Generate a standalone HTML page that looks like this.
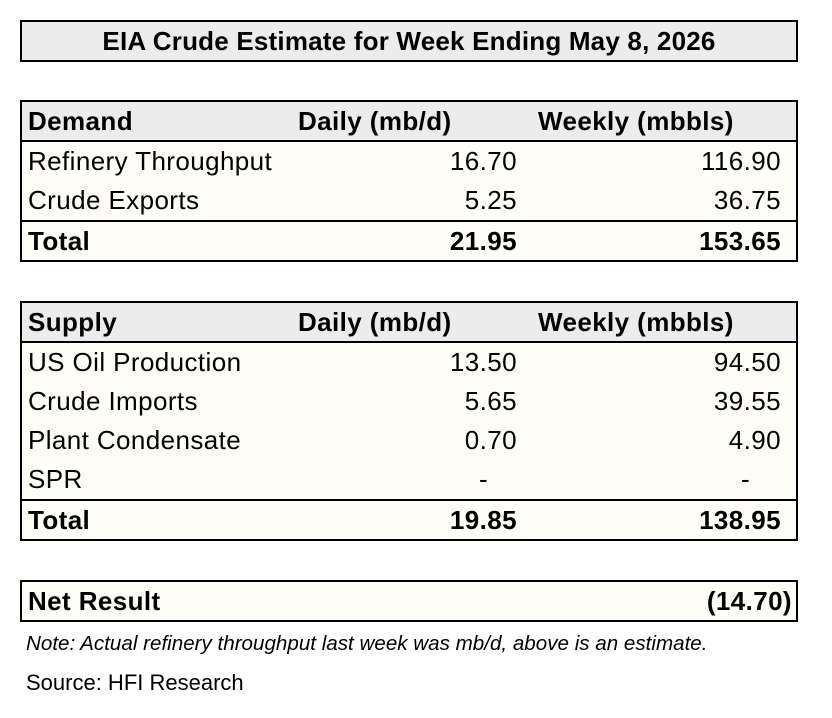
<!DOCTYPE html>
<html><head><meta charset="utf-8"><style>
body{margin:0;width:832px;height:718px;background:#fff;font-family:"Liberation Sans",sans-serif;color:#000;position:relative;overflow:hidden}
.box{position:absolute;left:20px;width:774px;border:2px solid #000;background:#fefdf8}
.row{position:relative;height:39px;font-size:26px;line-height:39px;letter-spacing:0.4px}
.hd{background:#ececec;font-weight:bold;border-bottom:2px solid #000;height:38px;line-height:38px}
.tot{font-weight:bold;border-top:2px solid #000;height:38px;line-height:38px}
.c{position:absolute;white-space:nowrap}
.l{left:6px}
.d{right:279px}
.w{right:15px}
.dh{left:276px}
.wh{left:516px}
</style></head><body>
<div class="box" style="top:20px;height:38px;background:#ececec;text-align:center;font-weight:bold;font-size:26px;line-height:38px;letter-spacing:0.2px">EIA Crude Estimate for Week Ending May 8, 2026</div>

<div class="box" style="top:100px">
<div class="row hd"><span class="c l">Demand</span><span class="c dh">Daily (mb/d)</span><span class="c wh">Weekly (mbbls)</span></div>
<div class="row"><span class="c l">Refinery Throughput</span><span class="c d">16.70</span><span class="c w">116.90</span></div>
<div class="row"><span class="c l">Crude Exports</span><span class="c d">5.25</span><span class="c w">36.75</span></div>
<div class="row tot"><span class="c l">Total</span><span class="c d">21.95</span><span class="c w">153.65</span></div>
</div>

<div class="box" style="top:301px">
<div class="row hd"><span class="c l">Supply</span><span class="c dh">Daily (mb/d)</span><span class="c wh">Weekly (mbbls)</span></div>
<div class="row"><span class="c l">US Oil Production</span><span class="c d">13.50</span><span class="c w">94.50</span></div>
<div class="row"><span class="c l">Crude Imports</span><span class="c d">5.65</span><span class="c w">39.55</span></div>
<div class="row"><span class="c l">Plant Condensate</span><span class="c d">0.70</span><span class="c w">4.90</span></div>
<div class="row"><span class="c l">SPR</span><span class="c d" style="right:308px">-</span><span class="c w" style="right:46px">-</span></div>
<div class="row tot"><span class="c l">Total</span><span class="c d">19.85</span><span class="c w">138.95</span></div>
</div>

<div class="box" style="top:580px">
<div class="row" style="height:38px;line-height:38px;font-weight:bold"><span class="c l">Net Result</span><span class="c w" style="right:4px">(14.70)</span></div>
</div>

<div style="position:absolute;left:26px;top:632px;font-size:20.6px;font-style:italic">Note: Actual refinery throughput last week was mb/d, above is an estimate.</div>
<div style="position:absolute;left:26px;top:670px;font-size:22px">Source: HFI Research</div>
</body></html>
